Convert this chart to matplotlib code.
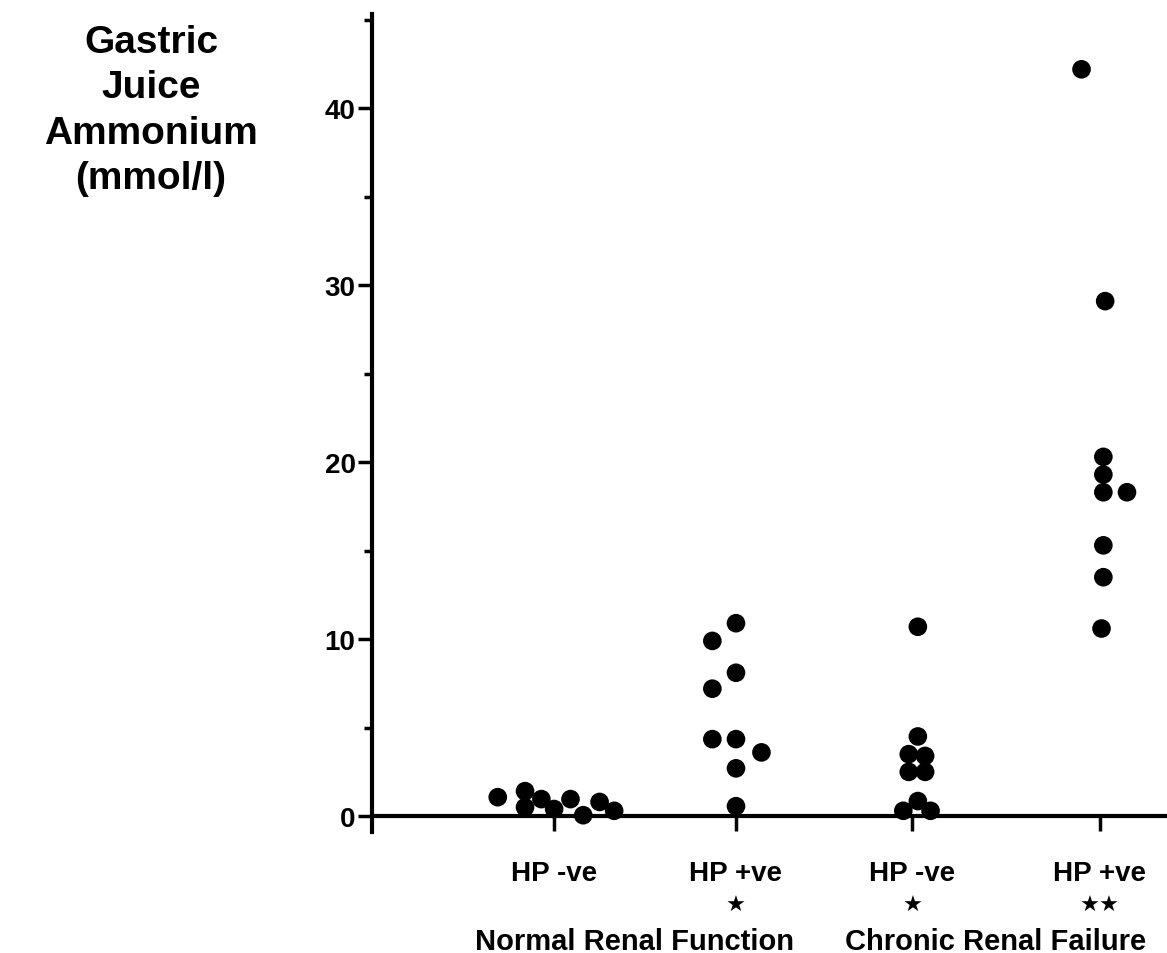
import matplotlib
matplotlib.use("Agg")
import matplotlib.pyplot as plt
from matplotlib.ticker import MultipleLocator
import matplotlib.transforms as mtransforms

plt.rcParams['font.family'] = ['Liberation Sans', 'DejaVu Sans']
plt.rcParams['font.weight'] = 'bold'

# ---- data (mmol/l) ----
categories = ["HP -ve", "HP +ve", "HP -ve", "HP +ve"]
significance = ["", "★", "★", "★★"]
groups = ["Normal Renal Function", "Chronic Renal Failure"]

normal_neg = [1.07, 1.41, 0.5, 0.96, 0.4, 0.96, 0.05, 0.8, 0.3]
normal_pos = [10.9, 9.9, 8.1, 7.2, 4.35, 4.35, 3.6, 2.7, 0.56]
crf_neg = [10.7, 4.5, 3.5, 3.4, 2.5, 2.5, 0.85, 0.3, 0.3]
crf_pos = [42.2, 29.1, 20.3, 19.3, 18.3, 18.3, 15.3, 13.5, 10.6]

# horizontal spread of dots within each column (dot-plot layout)
normal_neg_dx = [-0.31, -0.16, -0.16, -0.07, 0.0, 0.09, 0.16, 0.25, 0.33]
normal_pos_dx = [0.0, -0.13, 0.0, -0.13, -0.13, 0.0, 0.14, 0.0, 0.0]
crf_neg_dx = [0.03, 0.03, -0.02, 0.07, -0.02, 0.07, 0.03, -0.05, 0.10]
crf_pos_dx = [-0.10, 0.03, 0.02, 0.02, 0.02, 0.15, 0.02, 0.02, 0.01]

series = [normal_neg, normal_pos, crf_neg, crf_pos]
spreads = [normal_neg_dx, normal_pos_dx, crf_neg_dx, crf_pos_dx]
positions = [1, 2, 2.97, 4]

fig = plt.figure(figsize=(11.67, 9.54), dpi=100)
ax = fig.add_axes([0.319, 0.1268, 0.681, 0.857])
ax.set_xlim(0, 4.37)
ax.set_ylim(-0.9, 45.3)

for pos, vals, dxs in zip(positions, series, spreads):
    ax.scatter([pos + d for d in dxs], vals, s=180, color='black',
               edgecolors='none', zorder=3, clip_on=False)

for s in ['top', 'right']:
    ax.spines[s].set_visible(False)
ax.spines['left'].set_linewidth(3)
ax.spines['bottom'].set_linewidth(3)
ax.spines['bottom'].set_position(('data', 0))

ax.yaxis.set_minor_locator(MultipleLocator(5))
ax.set_yticks([0, 10, 20, 30, 40])
ax.tick_params(axis='y', which='major', length=10, width=2.5, labelsize=20, pad=2)
ax.tick_params(axis='y', which='minor', length=6, width=2.5)
for lab in ax.get_yticklabels():
    lab.set_fontweight('bold')

ax.set_xticks(positions)
ax.set_xticklabels([])
ax.tick_params(axis='x', which='major', length=11, width=2.5, direction='out')
ax.tick_params(axis='x', which='minor', length=0)

trans = mtransforms.blended_transform_factory(ax.transData, fig.transFigure)
for pos, cat, sig in zip(positions, categories, significance):
    ax.text(pos, 0.084, cat, transform=trans, ha='center', va='center',
            fontsize=20, fontweight='bold')
    if sig:
        ax.text(pos, 0.050, sig, transform=trans, ha='center', va='center',
                fontsize=16, fontweight='bold', family=['DejaVu Sans'])
ax.text(1.44, 0.013, groups[0], transform=trans, ha='center', va='center',
        fontsize=21, fontweight='bold')
ax.text(3.43, 0.013, groups[1], transform=trans, ha='center', va='center',
        fontsize=21, fontweight='bold')

fig.text(151 / 1167, 1 - 111 / 954, "Gastric\nJuice\nAmmonium\n(mmol/l)",
         ha='center', va='center', fontsize=28, fontweight='bold',
         linespacing=1.33)

fig.savefig("out.png", dpi=100)
